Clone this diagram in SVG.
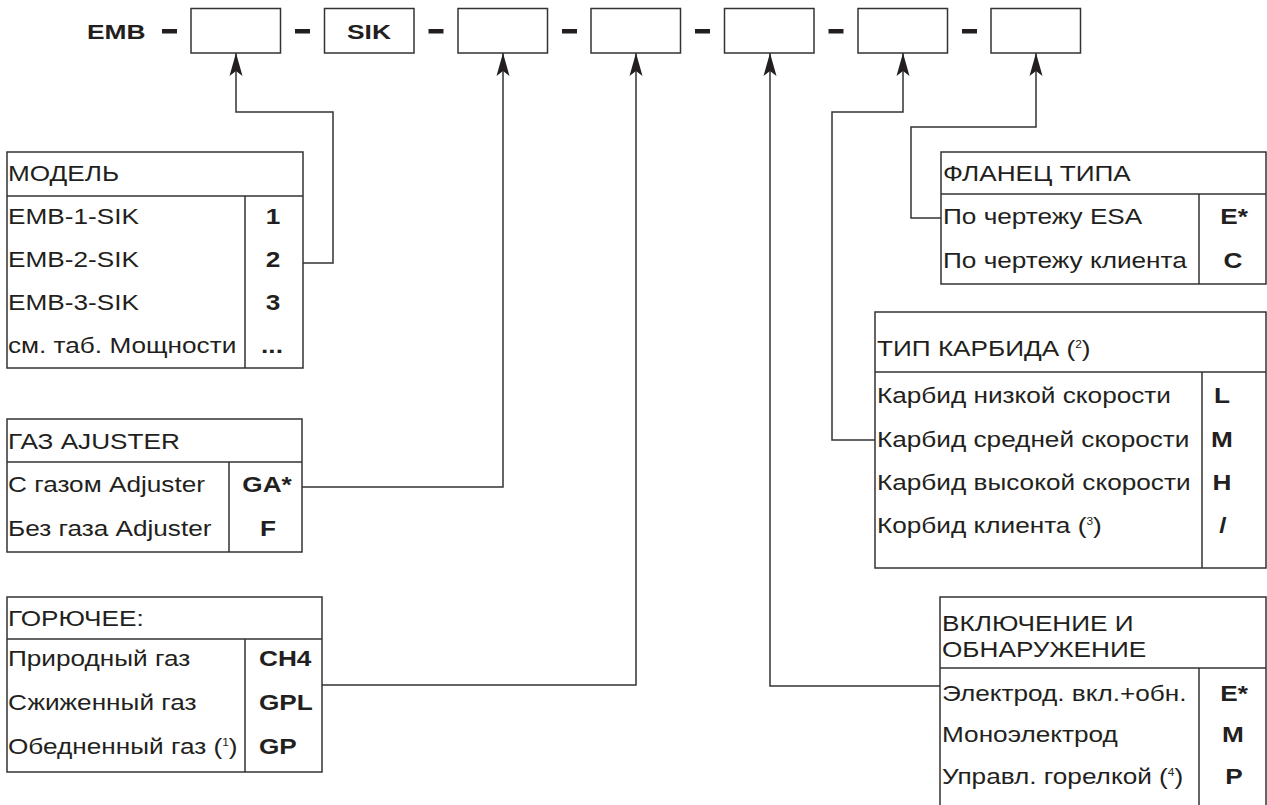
<svg xmlns="http://www.w3.org/2000/svg" width="1267" height="805" viewBox="0 0 1267 805">
<defs>
<style>
.t{font-family:"Liberation Sans",Arial,sans-serif;font-size:22px;fill:#231f20}
.b{font-weight:bold}
.m{text-anchor:middle}
.top{font-size:20px}
.f{fill:none;stroke:#333;stroke-width:1.5}
.c{fill:none;stroke:#333;stroke-width:1.5}
.d{fill:#231f20}
.sup{font-size:10px}
</style>
<marker id="ah" markerUnits="userSpaceOnUse" markerWidth="30" markerHeight="16" viewBox="-26 -8 28 16" refX="0" refY="0" orient="auto">
<path d="M0,0 L-23,-6.5 L-18,0 L-23,6.5 Z" fill="#231f20"/>
</marker>
</defs>
<rect width="1267" height="805" fill="#fff"/>

<g id="code">
<text class="t b top" transform="translate(87 38.5) scale(1.32 1)">EMB</text>
<rect class="d" x="162" y="29" width="15" height="4.5"/>
<rect class="f" x="191" y="8.5" width="89.5" height="44.5"/>
<rect class="d" x="295" y="29" width="15" height="4.5"/>
<rect class="f" x="324.5" y="8.5" width="89.5" height="44.5"/>
<text class="t b top m" transform="translate(369 38.5) scale(1.32 1)">SIK</text>
<rect class="d" x="428.5" y="29" width="15" height="4.5"/>
<rect class="f" x="458" y="8.5" width="89.5" height="44.5"/>
<rect class="d" x="562" y="29" width="15" height="4.5"/>
<rect class="f" x="591" y="8.5" width="89.5" height="44.5"/>
<rect class="d" x="695" y="29" width="15" height="4.5"/>
<rect class="f" x="724.5" y="8.5" width="89.5" height="44.5"/>
<rect class="d" x="828.5" y="29" width="15" height="4.5"/>
<rect class="f" x="858" y="8.5" width="89.5" height="44.5"/>
<rect class="d" x="962" y="29" width="15" height="4.5"/>
<rect class="f" x="991" y="8.5" width="89.5" height="44.5"/>
</g>

<g id="connectors">
<path class="c" d="M303,263 H333 V112 H236 V53" marker-end="url(#ah)"/>
<path class="c" d="M302,487 H503 V53" marker-end="url(#ah)"/>
<path class="c" d="M322,685 H636 V53" marker-end="url(#ah)"/>
<path class="c" d="M940,686 H770 V53" marker-end="url(#ah)"/>
<path class="c" d="M875,440 H832 V112 H903 V53" marker-end="url(#ah)"/>
<path class="c" d="M941,218 H911 V127 H1036 V53" marker-end="url(#ah)"/>
</g>

<g id="model">
<rect class="f" x="7" y="152" width="296" height="216"/>
<path class="f" d="M7,196 H303 M245,196 V368"/>
<text class="t" transform="translate(8 181) scale(1.19 1)">МОДЕЛЬ</text>
<text class="t" transform="translate(8 224) scale(1.19 1)">EMB-1-SIK</text>
<text class="t" transform="translate(8 267) scale(1.19 1)">EMB-2-SIK</text>
<text class="t" transform="translate(8 310) scale(1.19 1)">EMB-3-SIK</text>
<text class="t" transform="translate(8 353) scale(1.19 1)">см. таб. Мощности</text>
<text class="t b m" transform="translate(273 224) scale(1.19 1)">1</text>
<text class="t b m" transform="translate(273 267) scale(1.19 1)">2</text>
<text class="t b m" transform="translate(273 310) scale(1.19 1)">3</text>
<text class="t b m" transform="translate(272 353) scale(1.19 1)">...</text>
</g>

<g id="gas-adjuster">
<rect class="f" x="7" y="419" width="295" height="133"/>
<path class="f" d="M7,462 H302 M229,462 V552"/>
<text class="t" transform="translate(8 449) scale(1.19 1)">ГАЗ AJUSTER</text>
<text class="t" transform="translate(8 492) scale(1.19 1)">С газом Adjuster</text>
<text class="t" transform="translate(8 536) scale(1.19 1)">Без газа Adjuster</text>
<text class="t b m" transform="translate(267 492) scale(1.19 1)">GA*</text>
<text class="t b m" transform="translate(268 536) scale(1.19 1)">F</text>
</g>

<g id="fuel">
<rect class="f" x="7" y="597" width="315" height="175"/>
<path class="f" d="M7,639 H322 M245,639 V772"/>
<text class="t" transform="translate(8 626) scale(1.19 1)">ГОРЮЧЕЕ:</text>
<text class="t" transform="translate(8 666) scale(1.19 1)">Природный газ</text>
<text class="t" transform="translate(8 710) scale(1.19 1)">Сжиженный газ</text>
<text class="t" transform="translate(8 754) scale(1.19 1)">Обедненный газ (<tspan class="sup" dy="-8">1</tspan><tspan dy="8">)</tspan></text>
<text class="t b" transform="translate(259 666) scale(1.19 1)">CH4</text>
<text class="t b" transform="translate(259 710) scale(1.19 1)">GPL</text>
<text class="t b" transform="translate(259 754) scale(1.19 1)">GP</text>
</g>

<g id="flange">
<rect class="f" x="941" y="152" width="325" height="132"/>
<path class="f" d="M941,194 H1266 M1199,194 V284"/>
<text class="t" transform="translate(943 181) scale(1.19 1)">ФЛАНЕЦ ТИПА</text>
<text class="t" transform="translate(943 224) scale(1.19 1)">По чертежу ESA</text>
<text class="t" transform="translate(943 268) scale(1.19 1)">По чертежу клиента</text>
<text class="t b m" transform="translate(1234 224) scale(1.19 1)">E*</text>
<text class="t b m" transform="translate(1233 268) scale(1.19 1)">C</text>
</g>

<g id="carbide">
<rect class="f" x="875" y="312" width="391" height="256"/>
<path class="f" d="M875,372 H1266 M1202,372 V568"/>
<text class="t" transform="translate(877 356) scale(1.19 1)">ТИП КАРБИДА (<tspan class="sup" dy="-8">2</tspan><tspan dy="8">)</tspan></text>
<text class="t" transform="translate(877 403) scale(1.19 1)">Карбид низкой скорости</text>
<text class="t" transform="translate(877 447) scale(1.19 1)">Карбид средней скорости</text>
<text class="t" transform="translate(877 490) scale(1.19 1)">Карбид высокой скорости</text>
<text class="t" transform="translate(877 533) scale(1.19 1)">Корбид клиента (<tspan class="sup" dy="-8">3</tspan><tspan dy="8">)</tspan></text>
<text class="t b m" transform="translate(1222 403) scale(1.19 1)">L</text>
<text class="t b m" transform="translate(1222 447) scale(1.19 1)">M</text>
<text class="t b m" transform="translate(1222 490) scale(1.19 1)">H</text>
<text class="t b m" transform="translate(1223 533) scale(1.19 1)">/</text>
</g>

<g id="ignition">
<path class="f" d="M940,806 V597 H1266 V806 M940,668 H1266 M1199,668 V806"/>
<text class="t" transform="translate(942 631) scale(1.19 1)">ВКЛЮЧЕНИЕ И</text>
<text class="t" transform="translate(942 657) scale(1.19 1)">ОБНАРУЖЕНИЕ</text>
<text class="t" transform="translate(942 701) scale(1.19 1)">Электрод. вкл.+обн.</text>
<text class="t" transform="translate(942 742) scale(1.19 1)">Моноэлектрод</text>
<text class="t" transform="translate(942 784) scale(1.19 1)">Управл. горелкой (<tspan class="sup" dy="-8">4</tspan><tspan dy="8">)</tspan></text>
<text class="t b m" transform="translate(1234 701) scale(1.19 1)">E*</text>
<text class="t b m" transform="translate(1233 742) scale(1.19 1)">M</text>
<text class="t b m" transform="translate(1234 784) scale(1.19 1)">P</text>
</g>
</svg>
